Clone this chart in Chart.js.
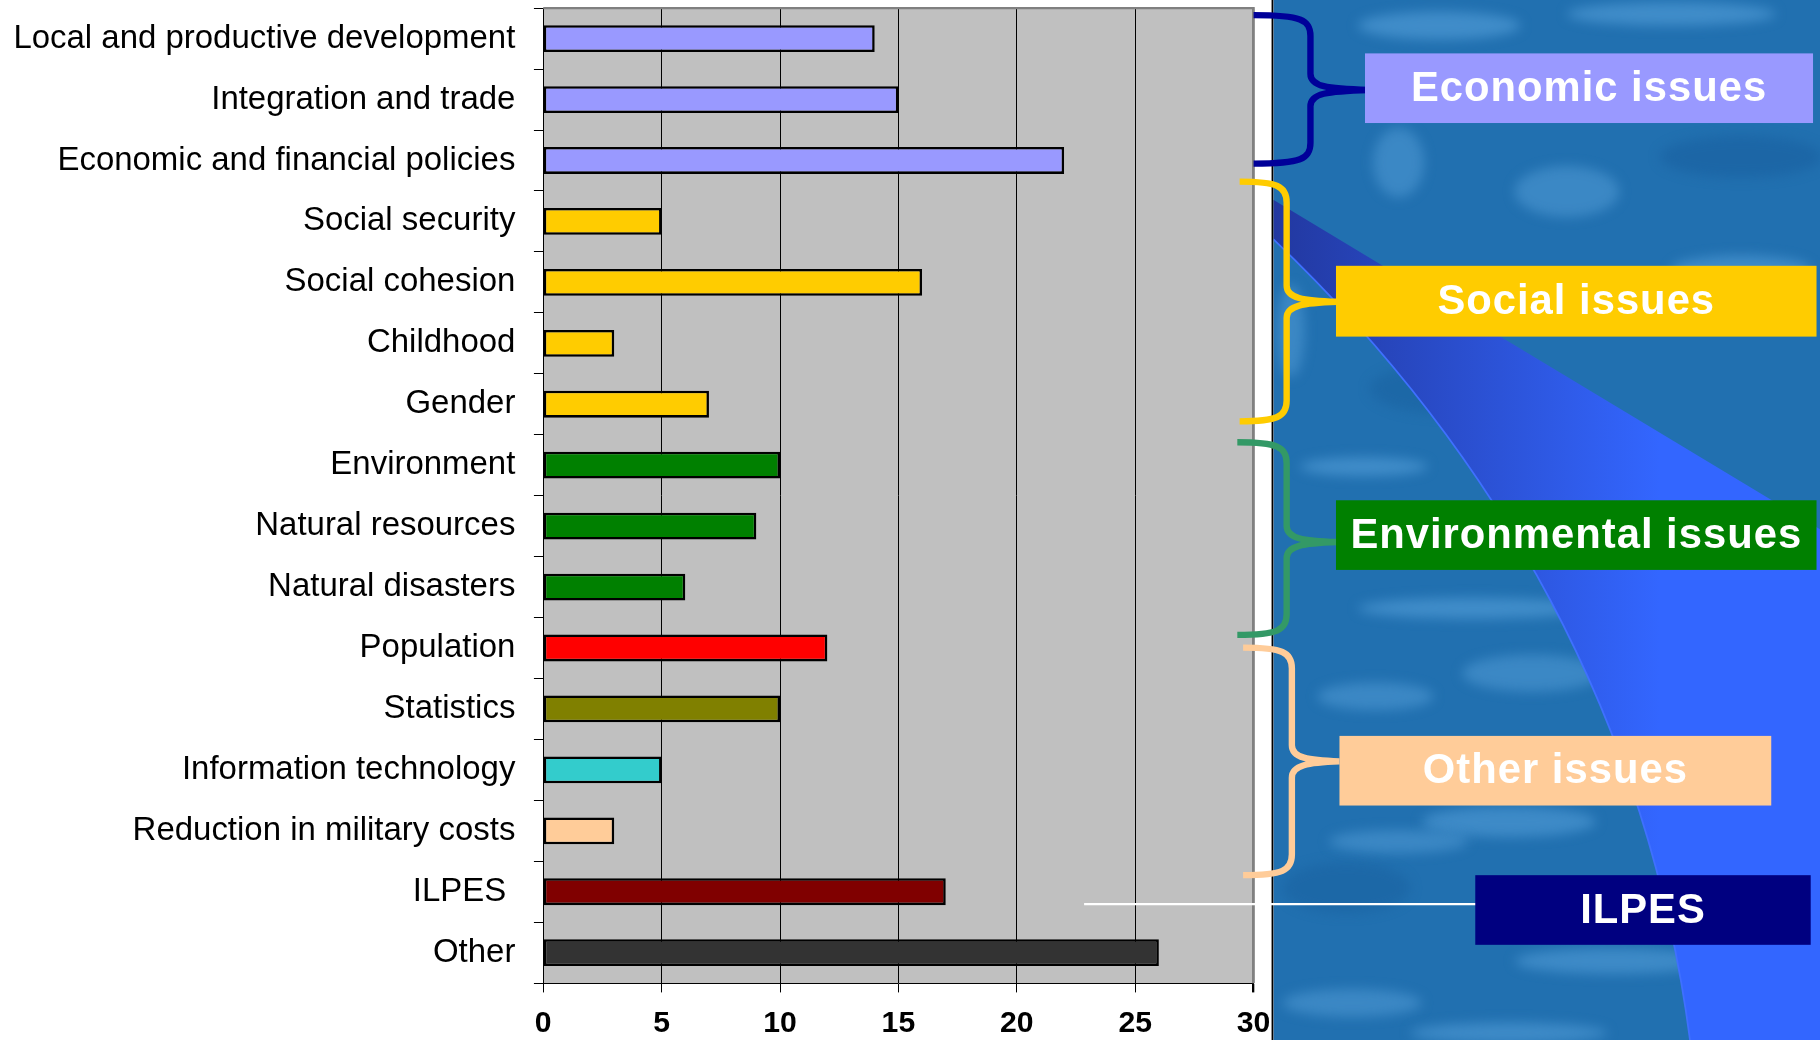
<!DOCTYPE html>
<html>
<head>
<meta charset="utf-8">
<script src="https://cdn.jsdelivr.net/npm/chart.js@4.4.0/dist/chart.umd.min.js"></script>
<style>
  html, body { margin: 0; padding: 0; background: #fff; }
  #wrap { width: 1820px; height: 1040px; position: relative; }
</style>
</head>
<body>
<div id="wrap"><canvas id="chart"></canvas></div>
<script>
const categories = [
  'Local and productive development', 'Integration and trade', 'Economic and financial policies',
  'Social security', 'Social cohesion', 'Childhood', 'Gender',
  'Environment', 'Natural resources', 'Natural disasters',
  'Population', 'Statistics', 'Information technology', 'Reduction in military costs',
  'ILPES ', 'Other'
];
const counts = [14, 15, 22, 5, 16, 3, 7, 10, 9, 6, 12, 10, 5, 3, 17, 26];
const xTicks = [0, 5, 10, 15, 20, 25, 30];
const groupLabels = ['Economic issues', 'Social issues', 'Environmental issues', 'Other issues', 'ILPES'];

// colours, one per bar
const barColors = [
  '#9999FF', '#9999FF', '#9999FF',
  '#FFCC00', '#FFCC00', '#FFCC00', '#FFCC00',
  '#008000', '#008000', '#008000',
  '#FF0000', '#808000', '#33CCCC', '#FFCC99',
  '#800000', '#333333'
];

// the layout was measured on a 1568 wide copy, scale to the page
const S = 1820 / 1568;
const d = v => v * S;

function drawBrace(ctx, color, x0, xv, xt, yTop, yTip, yBot) {
  ctx.save();
  ctx.strokeStyle = color;
  ctx.lineWidth = d(5.5);
  ctx.lineCap = 'butt';
  ctx.lineJoin = 'round';
  ctx.beginPath();
  ctx.moveTo(d(x0), d(yTop));
  ctx.bezierCurveTo(d(xv - 8), d(yTop), d(xv), d(yTop + 4), d(xv), d(yTop + 18));
  ctx.lineTo(d(xv), d(yTip - 14));
  ctx.bezierCurveTo(d(xv), d(yTip - 3), d(xv + 14), d(yTip - 1), d(xt), d(yTip));
  ctx.moveTo(d(xt), d(yTip));
  ctx.bezierCurveTo(d(xv + 14), d(yTip + 1), d(xv), d(yTip + 3), d(xv), d(yTip + 14));
  ctx.lineTo(d(xv), d(yBot - 18));
  ctx.bezierCurveTo(d(xv), d(yBot - 4), d(xv - 8), d(yBot), d(x0), d(yBot));
  ctx.stroke();
  ctx.restore();
}

function drawLabelBox(ctx, text, fill, x1, y1, x2, y2) {
  ctx.save();
  ctx.fillStyle = fill;
  ctx.fillRect(d(x1), d(y1), d(x2 - x1), d(y2 - y1));
  ctx.fillStyle = '#FFFFFF';
  ctx.font = 'bold ' + d(36) + 'px "Liberation Sans", Arial, sans-serif';
  ctx.letterSpacing = '1px';
  ctx.textAlign = 'center';
  ctx.textBaseline = 'middle';
  ctx.fillText(text, d((x1 + x2) / 2), d((y1 + y2) / 2 + 1));
  ctx.restore();
}

function wedgeCurve(ctx) {
  ctx.bezierCurveTo(d(1420), d(620), d(1290), d(390), d(1097), d(206));
}

const panelPlugin = {
  id: 'panel',
  beforeDraw(chart) {
    const { ctx, chartArea } = chart;
    ctx.save();
    ctx.fillStyle = '#FFFFFF';
    ctx.fillRect(0, 0, chart.width, chart.height);

    // blue textured panel on the right
    const px = d(1097);
    ctx.fillStyle = '#2170B0';
    ctx.fillRect(px, 0, chart.width - px, chart.height);
    const blobs = [
      [1240, 22, 70, 12, 0.6, '#55A0DA'], [1440, 12, 90, 10, 0.6, '#55A0DA'],
      [1350, 165, 45, 22, 0.5, '#55A0DA'], [1500, 232, 60, 12, 0.55, '#55A0DA'],
      [1205, 140, 22, 30, 0.5, '#55A0DA'], [1112, 285, 12, 40, 0.5, '#55A0DA'],
      [1175, 402, 55, 8, 0.6, '#55A0DA'], [1270, 524, 100, 9, 0.6, '#55A0DA'],
      [1185, 600, 50, 12, 0.5, '#55A0DA'], [1320, 580, 60, 16, 0.5, '#55A0DA'],
      [1300, 708, 75, 13, 0.55, '#55A0DA'], [1205, 725, 60, 10, 0.5, '#55A0DA'],
      [1390, 828, 85, 11, 0.55, '#55A0DA'], [1165, 864, 60, 12, 0.5, '#55A0DA'],
      [1300, 890, 85, 9, 0.55, '#55A0DA'], [1500, 135, 70, 18, 0.45, '#165C9C'],
      [1250, 335, 70, 22, 0.4, '#165C9C'], [1160, 765, 55, 22, 0.4, '#165C9C']
    ];
    ctx.filter = 'blur(' + d(5) + 'px)';
    blobs.forEach(([cx, cy, rx, ry, a, c]) => {
      ctx.globalAlpha = a;
      ctx.fillStyle = c;
      ctx.beginPath();
      ctx.ellipse(d(cx), d(cy), d(rx), d(ry), 0, 0, Math.PI * 2);
      ctx.fill();
    });
    ctx.filter = 'none';
    ctx.globalAlpha = 1;

    // bright wedge
    const grad = ctx.createLinearGradient(d(1097), 0, d(1430), 0);
    grad.addColorStop(0, '#2238A0');
    grad.addColorStop(1, '#3366FF');
    ctx.fillStyle = grad;
    ctx.beginPath();
    ctx.moveTo(d(1097), d(172));
    ctx.lineTo(d(1568), d(456));
    ctx.lineTo(d(1568), d(896));
    ctx.lineTo(d(1456), d(896));
    wedgeCurve(ctx);
    ctx.closePath();
    ctx.fill();
    ctx.strokeStyle = '#3F70FF';
    ctx.lineWidth = d(1.5);
    ctx.beginPath();
    ctx.moveTo(d(1456), d(896));
    wedgeCurve(ctx);
    ctx.stroke();

    // white strip and dark divider
    ctx.fillStyle = '#FFFFFF';
    ctx.fillRect(chartArea.right, 0, px - chartArea.right, chart.height);
    ctx.fillStyle = '#000000';
    ctx.fillRect(px - d(1.5), 0, d(1.5), chart.height);

    // plot background
    ctx.fillStyle = '#C0C0C0';
    ctx.fillRect(chartArea.left, chartArea.top, chartArea.right - chartArea.left, chartArea.bottom - chartArea.top);
    ctx.restore();
  },
  afterDraw(chart) {
    const { ctx, chartArea } = chart;
    ctx.save();
    ctx.strokeStyle = '#808080';
    ctx.lineWidth = d(2);
    ctx.beginPath();
    ctx.moveTo(chartArea.left, chartArea.top);
    ctx.lineTo(chartArea.right, chartArea.top);
    ctx.lineTo(chartArea.right, chartArea.bottom);
    ctx.stroke();

    // white connector to the ILPES box
    ctx.strokeStyle = '#FFFFFF';
    ctx.lineWidth = d(2);
    ctx.beginPath();
    ctx.moveTo(d(934), d(779));
    ctx.lineTo(d(1272), d(779));
    ctx.stroke();
    ctx.restore();

    drawBrace(ctx, '#000099', 1080, 1129, 1179, 13, 77.5, 141);
    drawBrace(ctx, '#FFCC00', 1068, 1108.5, 1152, 156.5, 260, 363);
    drawBrace(ctx, '#339966', 1066, 1108.5, 1152, 381, 467, 547);
    drawBrace(ctx, '#FFCC99', 1071, 1113, 1154, 558, 656, 754);

    drawLabelBox(ctx, groupLabels[0], '#9999FF', 1176, 46, 1562, 106);
    drawLabelBox(ctx, groupLabels[1], '#FFCC00', 1151, 229, 1565, 290);
    drawLabelBox(ctx, groupLabels[2], '#008000', 1151, 431, 1565, 491);
    drawLabelBox(ctx, groupLabels[3], '#FFCC99', 1154, 634, 1526, 694);
    drawLabelBox(ctx, groupLabels[4], '#000080', 1271, 754, 1560, 814);
  }
};

new Chart(document.getElementById('chart'), {
  type: 'bar',
  data: {
    labels: categories,
    datasets: [{
      data: counts,
      backgroundColor: barColors,
      borderColor: '#000000',
      borderWidth: d(2.2),
      borderSkipped: false,
      barPercentage: 0.44,
      categoryPercentage: 1,
    }],
  },
  options: {
    indexAxis: 'y',
    responsive: true,
    maintainAspectRatio: false,
    animation: false,
    layout: { padding: { left: 0, top: d(7), right: 1820 - d(1080), bottom: 0 } },
    plugins: {
      legend: { display: false },
      tooltip: { enabled: false },
    },
    scales: {
      x: {
        min: xTicks[0],
        max: xTicks[xTicks.length - 1],
        afterBuildTicks(scale) {
          scale.ticks = xTicks.map(v => ({ value: v }));
        },
        afterFit(scale) {
          scale.height = 1040 - d(847);
          scale.paddingLeft = 0;
          scale.paddingRight = 0;
        },
        border: { display: true, color: '#000000', width: 1 },
        grid: {
          color: c => (c.tick && c.tick.value === 30 ? '#808080' : '#000000'),
          lineWidth: c => (c.tick && c.tick.value === 30 ? d(2) : 1),
          tickColor: '#000000',
          tickLength: d(8),
        },
        ticks: {
          color: '#000000',
          padding: d(11),
          maxRotation: 0,
          font: { family: '"Liberation Sans", Arial, sans-serif', size: d(26), weight: 'bold' },
        },
      },
      y: {
        afterFit(scale) {
          scale.width = d(468);
          scale.paddingTop = 0;
          scale.paddingBottom = 0;
        },
        border: { display: true, color: '#000000', width: 1 },
        grid: {
          drawOnChartArea: false,
          tickColor: '#000000',
          tickLength: d(8),
        },
        ticks: {
          autoSkip: false,
          color: '#000000',
          padding: d(16),
          font: { family: '"Liberation Sans", Arial, sans-serif', size: d(28.4) },
        },
      },
    },
  },
  plugins: [panelPlugin],
});
</script>
</body>
</html>
